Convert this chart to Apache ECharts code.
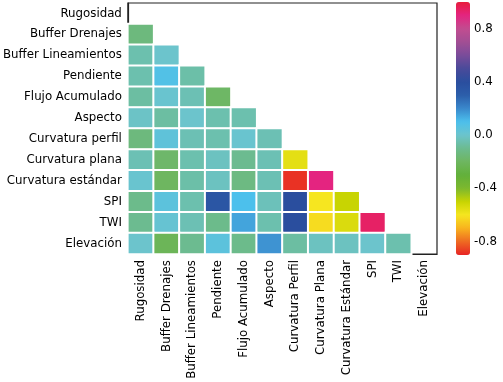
<!DOCTYPE html>
<html>
<head>
<meta charset="utf-8">
<script src="https://cdn.jsdelivr.net/npm/echarts@6/dist/echarts.min.js"></script>
<style>
  html, body { margin: 0; padding: 0; background: #fff; }
  #chart { width: 503px; height: 382px; }
</style>
</head>
<body>
<div id="chart"></div>
<script>
// matriz de correlación (triángulo inferior)

var rowLabels = ['Rugosidad', 'Buffer Drenajes', 'Buffer Lineamientos', 'Pendiente', 'Flujo Acumulado', 'Aspecto',
  'Curvatura perfil', 'Curvatura plana', 'Curvatura estándar', 'SPI', 'TWI', 'Elevación']
var colLabels = ['Rugosidad', 'Buffer Drenajes', 'Buffer Lineamientos', 'Pendiente', 'Flujo Acumulado', 'Aspecto',
  'Curvatura Perfil', 'Curvatura Plana', 'Curvatura Estándar', 'SPI', 'TWI', 'Elevación']

// una fila por variable, sólo las columnas bajo la diagonal
var corrRows = [
  [],
  [-0.14],
  [-0.05, 0.00],
  [-0.05, 0.08, -0.06],
  [-0.07, 0.01, -0.04, -0.19],
  [-0.01, -0.07, 0.00, -0.05, -0.05],
  [-0.14, 0.04, -0.04, -0.05, 0.01, -0.04],
  [-0.04, -0.18, -0.05, -0.02, -0.10, -0.04, -0.56],
  [0.01, -0.20, -0.06, -0.02, -0.13, -0.04, -0.88, 0.90],
  [-0.11, 0.05, -0.05, 0.35, 0.10, -0.03, 0.40, -0.60, -0.50],
  [-0.10, 0.02, -0.04, -0.11, 0.15, -0.05, 0.40, -0.62, -0.54, 0.94],
  [0.00, -0.22, -0.10, 0.05, -0.11, 0.18, -0.07, -0.02, -0.02, 0.00, -0.05]
]

var barTicks = [-0.8, -0.4, 0.0, 0.4, 0.8]
var barMin = -0.9
var barMax = 1.0
var palette = ['#e82424', '#ee6a22', '#f8b21e', '#f6e620', '#c8d402', '#7cb82e', '#62b03a', '#6eb660', '#6cbb90',
  '#6cc4cc', '#4cc0ec', '#3a88cc', '#2c5eaa', '#2a4e9e', '#4a4a9a', '#7a4c9a', '#a24e94', '#c24c90', '#e42480', '#e81c3c']

var cells = []
for (var i = 0; i < corrRows.length; i++) {
  for (var j = 0; j < corrRows[i].length; j++) {
    cells.push([j, i, corrRows[i][j]])
  }
}

var chart = echarts.init(document.getElementById('chart'))

var font = 'DejaVu Sans'
var fsize = 11.8

var option = {
  animation: false,
  grid: [
    {left: 127, top: 3, width: 310, height: 251, show: true, borderColor: '#222', borderWidth: 1.2, backgroundColor: '#fff'},
    {left: 456, top: 2, width: 14, height: 253}
  ],
  xAxis: [
    {
      type: 'category', data: colLabels, gridIndex: 0,
      axisLine: {lineStyle: {color: '#222', width: 1.2}},
      axisTick: {alignWithLabel: true, length: 4, lineStyle: {color: '#222'}},
      axisLabel: {rotate: 90, interval: 0, color: '#000', fontFamily: font, fontSize: fsize, margin: 6},
      splitArea: {show: false}
    },
    {type: 'value', gridIndex: 1, show: false}
  ],
  yAxis: [
    {
      type: 'category', data: rowLabels, inverse: true, gridIndex: 0,
      axisLine: {lineStyle: {color: '#222', width: 1.2}},
      axisTick: {alignWithLabel: true, length: 4, lineStyle: {color: '#222'}},
      axisLabel: {interval: 0, color: '#000', fontFamily: font, fontSize: fsize, margin: 6}
    },
    {
      type: 'value', gridIndex: 1, position: 'right', min: barMin, max: barMax,
      axisLine: {show: false},
      splitLine: {show: false},
      axisTick: {show: true, length: 4, customValues: barTicks, lineStyle: {color: '#222'}},
      axisLabel: {
        customValues: barTicks, color: '#000', fontFamily: font, fontSize: fsize, margin: 4,
        formatter: function (v) { return v.toFixed(1) }
      }
    }
  ],
  visualMap: {
    type: 'continuous',
    seriesIndex: 0,
    min: barMin, max: barMax,
    calculable: false,
    orient: 'vertical',
    left: 456, top: 2,
    itemWidth: 14, itemHeight: 253,
    padding: 0,
    text: null,
    showLabel: false,
    inRange: {color: palette}
  },
  series: [
    {
      name: 'correlación',
      type: 'heatmap',
      data: cells,
      itemStyle: {borderColor: '#fff', borderWidth: 2},
      emphasis: {disabled: true}
    }
  ]
}

chart.setOption(option)
</script>
</body>
</html>
